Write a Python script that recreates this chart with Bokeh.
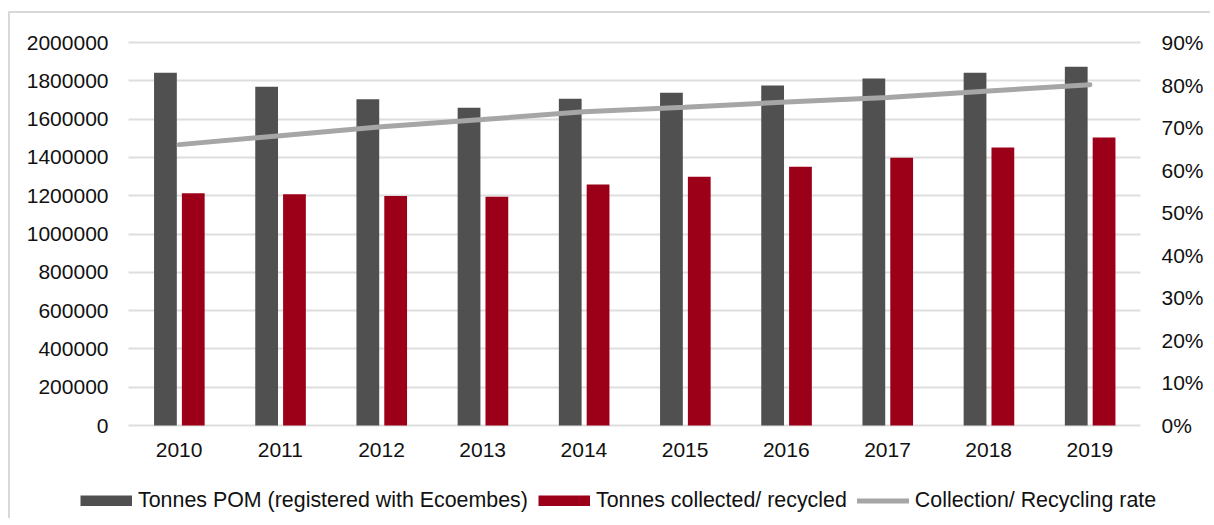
from bokeh.plotting import figure
from bokeh.models import (Range1d, LinearAxis, FixedTicker, NumeralTickFormatter,
                          Legend, LegendItem, ColumnDataSource)
from bokeh.transform import dodge
from bokeh.embed import file_html
from bokeh.resources import INLINE

years = [2010, 2011, 2012, 2013, 2014, 2015, 2016, 2017, 2018, 2019]
pom = [1842000, 1769000, 1704000, 1659000, 1706000, 1737000, 1775000, 1812000, 1842000, 1873000]
collected = [1213000, 1208000, 1199000, 1194000, 1258000, 1299000, 1351000, 1398000, 1452000, 1504000]
rate = [0.660, 0.681, 0.702, 0.719, 0.737, 0.748, 0.760, 0.771, 0.786, 0.801]
left_ticks = [0, 200000, 400000, 600000, 800000, 1000000, 1200000, 1400000, 1600000, 1800000, 2000000]
right_ticks = [0, 0.1, 0.2, 0.3, 0.4, 0.5, 0.6, 0.7, 0.8, 0.9]
labels = ["Tonnes POM (registered with Ecoembes)", "Tonnes collected/ recycled",
          "Collection/ Recycling rate"]

src = ColumnDataSource(dict(year=years, pom=pom, collected=collected, rate=rate))

FONT = "Liberation Sans"
FS = "21px"
TXT = "#111111"
C_POM, C_COL, C_RATE = "#505050", "#9c0019", "#a6a6a6"

# canvas geometry (pixels) and plot-area geometry inside it
W, H = 1202, 507
PL, PR, PT, PB = 118, 1130, 29, 412   # plot area inside canvas
x_lo, x_hi = years[0] - 0.5, years[-1] + 0.5
ppx = (PR - PL) / (x_hi - x_lo)
y_top = left_ticks[-1]
ppy = (PB - PT) / y_top
p_top = right_ticks[-1]
ppp = (PB - PT) / p_top

xr = Range1d(x_lo - PL / ppx, x_hi + (W - PR) / ppx)
yr = Range1d(-(H - PB) / ppy, y_top + PT / ppy)

p = figure(x_range=xr, y_range=yr, width=W, height=H, output_backend="svg",
           toolbar_location=None, min_border=0, x_axis_location=None, y_axis_location=None)
p.styles = {"border-top": "2px solid #d9d9d9", "border-left": "2px solid #d9d9d9",
            "margin-top": "11px", "margin-left": "8px"}
p.extra_y_ranges = {"pct": Range1d(-(H - PB) / ppp, p_top + PT / ppp)}
p.outline_line_color = None
p.background_fill_color = "white"
p.border_fill_color = "white"

r1 = p.vbar(x=dodge("year", -0.135), top="pom", width=0.225, source=src,
            fill_color=C_POM, line_color=None)
r2 = p.vbar(x=dodge("year", 0.14), top="collected", width=0.225, source=src,
            fill_color=C_COL, line_color=None)
r3 = p.line(x="year", y="rate", source=src, y_range_name="pct", line_color=C_RATE,
            line_width=5, line_cap="round")

# legend swatch helpers (a single missing point, only drawn in the legend as full-width bars)
nan = float("nan")
k1 = p.line(x=[nan], y=[nan], line_color=C_POM, line_width=11, line_cap="butt")
k2 = p.line(x=[nan], y=[nan], line_color=C_COL, line_width=11, line_cap="butt")


def style(ax, standoff):
    ax.axis_line_color = None
    ax.major_tick_line_color = None
    ax.minor_tick_line_color = None
    ax.major_label_text_font = FONT
    ax.major_label_text_font_size = FS
    ax.major_label_text_color = TXT
    ax.major_label_standoff = standoff


xa = LinearAxis(ticker=FixedTicker(ticks=years), formatter=NumeralTickFormatter(format="0"),
                fixed_location=0)
style(xa, 11)
p.add_layout(xa, "below")

ya = LinearAxis(ticker=FixedTicker(ticks=left_ticks), formatter=NumeralTickFormatter(format="0"),
                fixed_location=x_lo)
style(ya, 14)
p.add_layout(ya, "left")

ra = LinearAxis(y_range_name="pct", ticker=FixedTicker(ticks=right_ticks),
                formatter=NumeralTickFormatter(format="0%"), fixed_location=x_hi)
style(ra, 15)
p.add_layout(ra, "right")

p.xgrid.grid_line_color = None
p.ygrid.ticker = FixedTicker(ticks=left_ticks)
p.ygrid.cross_bounds = (x_lo, x_hi)
p.ygrid.grid_line_color = "#dedede"
p.ygrid.grid_line_width = 2

legend = Legend(items=[LegendItem(label=labels[0], renderers=[k1, r1]),
                       LegendItem(label=labels[1], renderers=[k2, r2]),
                       LegendItem(label=labels[2], renderers=[r3])],
                orientation="horizontal", location=(70, 7),
                glyph_width=52, glyph_height=11, label_standoff=6, spacing=10,
                padding=0, margin=0, border_line_color=None, background_fill_alpha=0,
                label_text_font=FONT, label_text_font_size="21.4px", label_text_color=TXT)
p.add_layout(legend)

open("out.html", "w").write(file_html(p, INLINE))
